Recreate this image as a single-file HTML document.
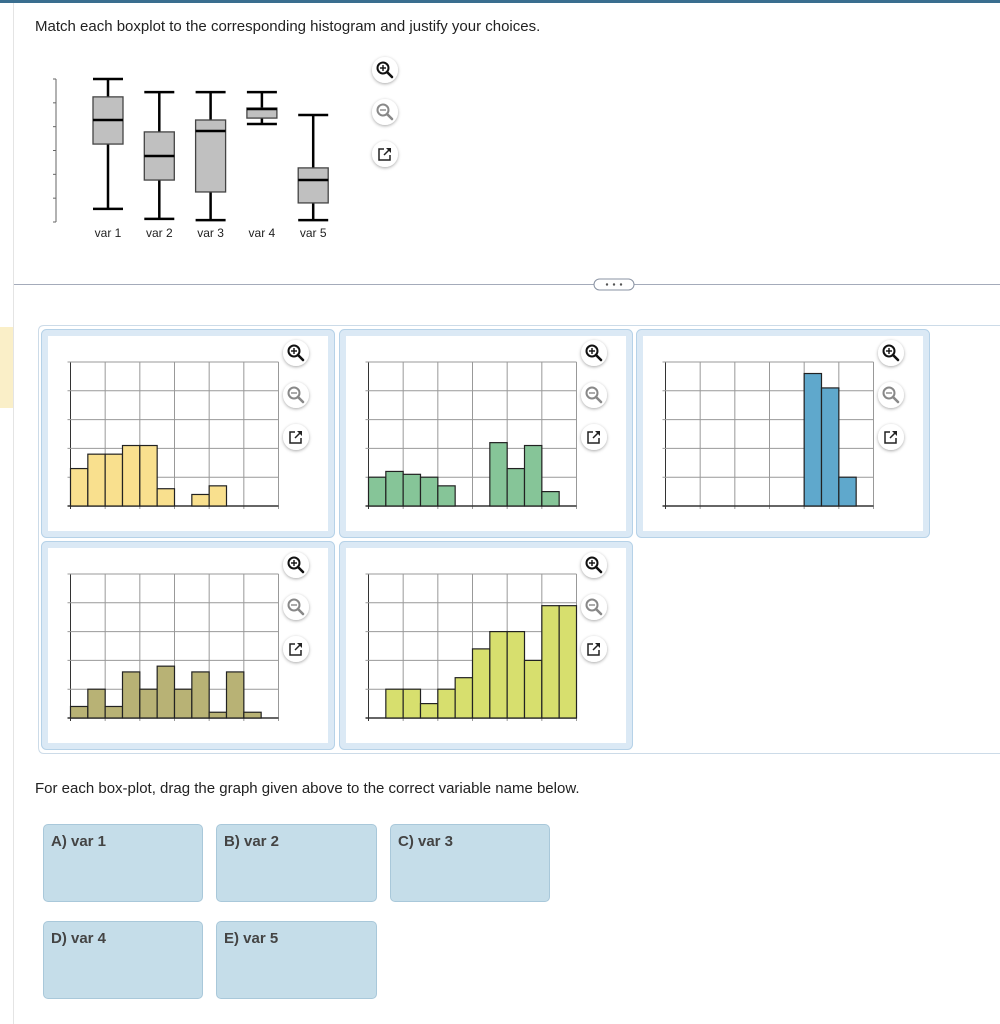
<!DOCTYPE html>
<html><head><meta charset="utf-8">
<style>
html,body{margin:0;padding:0;background:#fff;}
body{width:1000px;height:1024px;position:relative;overflow:hidden;font-family:"Liberation Sans",Arial,sans-serif;color:#222;}
.abs{position:absolute;}
.drop{position:absolute;background:#c5dde9;border:1px solid #a9c8da;border-radius:5px;box-sizing:border-box;}
.drop span{position:absolute;left:7px;top:8px;font-weight:bold;font-size:15px;color:#444;}
</style></head>
<body>
<div class="abs" style="left:0;top:0;width:1000px;height:3px;background:#3a6e8f"></div>
<div class="abs" style="left:13px;top:3px;width:1px;height:1021px;background:#e4e4e4"></div>
<div class="abs" style="left:0;top:327px;width:13px;height:81px;background:#faefc8"></div>
<div class="abs" style="left:35px;top:18px;font-size:15px;">Match each boxplot to the corresponding histogram and justify your choices.</div>
<div class="abs" style="left:35px;top:780px;font-size:15px;">For each box-plot, drag the graph given above to the correct variable name below.</div>

<div class="drop" style="left:43px;top:824px;width:160px;height:78px"><span>A) var 1</span></div>
<div class="drop" style="left:216px;top:824px;width:161px;height:78px"><span>B) var 2</span></div>
<div class="drop" style="left:390px;top:824px;width:160px;height:78px"><span>C) var 3</span></div>
<div class="drop" style="left:43px;top:921px;width:160px;height:78px"><span>D) var 4</span></div>
<div class="drop" style="left:216px;top:921px;width:161px;height:78px"><span>E) var 5</span></div>

<svg id="main" class="abs" style="left:0;top:0" width="1000" height="1024">
<defs><filter id="sh" x="-50%" y="-50%" width="200%" height="200%"><feDropShadow dx="0" dy="1" stdDeviation="1.5" flood-color="#000" flood-opacity="0.35"/></filter></defs>
</svg>

<script>
// Boxplot data (axis 0..6)
const boxVars = ["var 1","var 2","var 3","var 4","var 5"];
const boxMin = [0.55,0.13,0.08,4.11,0.08];
const boxQ1 = [3.27,1.76,1.26,4.36,0.80];
const boxMed = [4.28,2.77,3.82,4.74,1.76];
const boxQ3 = [5.25,3.78,4.28,4.78,2.27];
const boxMax = [6.0,5.45,5.45,5.45,4.49];
const boxTicks = [0,1,2,3,4,5,6];

// Histogram data (counts per bin, 12 bins, y 0..50)
const histBins = 12;
const histYTicks = [0,10,20,30,40,50];
const hist1 = [13,18,18,21,21,6,0,4,7,0,0,0];
const hist2 = [10,12,11,10,7,0,0,22,13,21,5,0];
const hist3 = [0,0,0,0,0,0,0,0,46,41,10,0];
const hist4 = [4,10,4,16,10,18,10,16,2,16,2,0];
const hist5 = [0,10,10,5,10,14,24,30,30,20,39,39];

const NS="http://www.w3.org/2000/svg";
const svg=document.getElementById('main');
function mk(tag,attrs,parent){const e=document.createElementNS(NS,tag);for(const k in attrs)e.setAttribute(k,attrs[k]);(parent||svg).appendChild(e);return e;}

function icons(cx,y0,g){
  const ys=[y0,y0+42,y0+84];
  const names=['zoom-in-button','zoom-out-button','open-external-button'];
  ys.forEach((y,i)=>{
    const b=mk('g',{},g);
    
    
    mk('circle',{cx:cx,cy:y,r:13,fill:'#fff',filter:'url(#sh)'},b);
    if(i<2){
      const col=i==0?'#111':'#888';
      mk('circle',{cx:cx-2,cy:y-2,r:5.5,fill:'none',stroke:col,'stroke-width':2},b);
      mk('line',{x1:cx+2,y1:y+2,x2:cx+7,y2:y+7,stroke:col,'stroke-width':2.6,'stroke-linecap':'round'},b);
      mk('line',{x1:cx-5,y1:y-2,x2:cx+1,y2:y-2,stroke:col,'stroke-width':1.4},b);
      if(i==0)mk('line',{x1:cx-2,y1:y-5,x2:cx-2,y2:y+1,stroke:col,'stroke-width':1.4},b);
    } else {
      mk('path',{d:`M${cx-1} ${y-5} H${cx-6} V${y+6} H${cx+5} V${y+1}`,fill:'none',stroke:'#222','stroke-width':1.5},b);
      mk('line',{x1:cx-1,y1:y+1,x2:cx+5,y2:y-5,stroke:'#222','stroke-width':1.5},b);
      mk('path',{d:`M${cx+1} ${y-6} H${cx+6} V${y-1} Z`,fill:'#222'},b);
    }
  });
}

// Boxplot
(function(){
  const g=mk('g',{});
  
  
  const y0=222,y1=79,vmax=6;
  const Y=v=>y0-(v/vmax)*(y0-y1);
  const X=i=>108+i*51.3;
  mk('line',{x1:56,y1:Y(0),x2:56,y2:Y(vmax),stroke:'#666','stroke-width':1},g);
  boxTicks.forEach(t=>{const l=mk('line',{x1:53,y1:Y(t),x2:56,y2:Y(t),stroke:'#666'},g);});
  boxVars.forEach((nm,i)=>{
    const b=mk('g',{},g);
    
    
    const cx=X(i);
    mk('line',{x1:cx,y1:Y(boxMax[i]),x2:cx,y2:Y(boxMin[i]),stroke:'#000','stroke-width':2.5},b);
    mk('line',{x1:cx-15,y1:Y(boxMax[i]),x2:cx+15,y2:Y(boxMax[i]),stroke:'#000','stroke-width':2.5},b);
    mk('line',{x1:cx-15,y1:Y(boxMin[i]),x2:cx+15,y2:Y(boxMin[i]),stroke:'#000','stroke-width':2.5},b);
    mk('rect',{x:cx-15,y:Y(boxQ3[i]),width:30,height:Y(boxQ1[i])-Y(boxQ3[i]),fill:'#c0c0c0',stroke:'#444','stroke-width':1.3},b);
    mk('line',{x1:cx-15,y1:Y(boxMed[i]),x2:cx+15,y2:Y(boxMed[i]),stroke:'#000','stroke-width':2.5},b);
    const t=mk('text',{x:cx,y:237,'text-anchor':'middle','font-size':12,fill:'#222','font-family':'Liberation Sans, Arial, sans-serif'},g);
    t.textContent=nm;
    
    
  });
  icons(385,70,g);
})();

// Separator
mk('line',{x1:14,y1:284.5,x2:1000,y2:284.5,stroke:'#a4abba','stroke-width':1});
const pill=mk('g',{});


mk('rect',{x:594,y:279,width:40,height:11,rx:5.5,fill:'#fff',stroke:'#8a93a3'},pill);
[607,614,621].forEach(x=>mk('circle',{cx:x,cy:284.5,r:1.2,fill:'#555'},pill));

// Container
mk('path',{d:'M1000 325.5 H44 Q38.5 325.5 38.5 331 V747 Q38.5 753.5 44 753.5 H1000',fill:'none',stroke:'#ccdbe8','stroke-width':1});

const cards=[
  {x:41,y:329,data:hist1,fill:'#f9e08e',name:'histogram-yellow'},
  {x:339,y:329,data:hist2,fill:'#86c598',name:'histogram-green'},
  {x:636,y:329,data:hist3,fill:'#5fa8cc',name:'histogram-blue'},
  {x:41,y:541,data:hist4,fill:'#b8b275',name:'histogram-olive'},
  {x:339,y:541,data:hist5,fill:'#d7df6e',name:'histogram-lime'}
];
cards.forEach(c=>{
  const g=mk('g',{});
  
  
  mk('rect',{x:c.x+0.5,y:c.y+0.5,width:293,height:208,rx:5,fill:'#dbe9f5',stroke:'#b6d2e8'},g);
  mk('rect',{x:c.x+7,y:c.y+7,width:280,height:195,fill:'#fff'},g);
  const px=c.x+29.5, py=c.y+33, pw=208, ph=144, ymax=50;
  const X=i=>px+i*pw/histBins;
  const Y=v=>py+ph-(v/ymax)*ph;
  for(let i=0;i<=histBins;i+=2){mk('line',{x1:X(i),y1:py,x2:X(i),y2:py+ph+3,stroke:i==0?'#333':'#999','stroke-width':1},g);}
  histYTicks.forEach(t=>{mk('line',{x1:px-3,y1:Y(t),x2:px+pw,y2:Y(t),stroke:t==0?'#333':'#999','stroke-width':t==0?1.5:1},g);});
  c.data.forEach((v,i)=>{
    if(v<=0)return;
    const r=mk('rect',{x:X(i),y:Y(v),width:pw/histBins,height:Y(0)-Y(v),fill:c.fill,stroke:'#222','stroke-width':1.2},g);
    
    
  });
  icons(c.x+255,c.y+24,g);
});
</script>
</body></html>
